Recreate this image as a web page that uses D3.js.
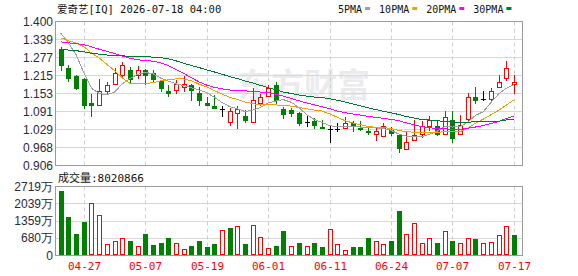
<!DOCTYPE html>
<html>
<head>
<meta charset="utf-8">
<script src="https://cdn.jsdelivr.net/npm/d3@7"></script>
<style>
body{margin:0;background:#fff;}
svg text{font-family:Arial,"Liberation Sans",sans-serif;}
</style>
</head>
<body>
<svg id="kline" width="578" height="276"></svg>
<script>
var dates = [
"04-22","04-23","04-24","04-27","04-28","04-29","04-30","05-01","05-04","05-05",
"05-06","05-07","05-08","05-11","05-12","05-13","05-14","05-15","05-18","05-19",
"05-20","05-21","05-22","05-26","05-27","05-28","05-29","06-01","06-02","06-03",
"06-04","06-05","06-08","06-09","06-10","06-11","06-12","06-15","06-16","06-17",
"06-18","06-22","06-23","06-24","06-25","06-26","06-29","06-30","07-01","07-02",
"07-06","07-07","07-08","07-09","07-10","07-13","07-14","07-15","07-16","07-17"];

var open = [
1.304,1.241,1.213,1.203,1.121,1.113,1.163,1.186,1.215,1.233,
1.218,1.233,1.222,1.196,1.163,1.166,1.177,1.183,1.155,1.122,
1.111,1.097,1.054,1.086,1.077,1.055,1.122,1.145,1.183,1.100,
1.097,1.085,1.054,1.057,1.038,1.031,1.031,1.035,1.052,1.035,
1.026,1.015,1.006,1.029,1.012,0.963,0.995,1.015,1.043,1.040,
1.015,1.063,1.015,1.066,1.141,1.132,1.134,1.175,1.206,1.185];
var high = [
1.312,1.250,1.215,1.205,1.150,1.203,1.193,1.241,1.262,1.243,
1.247,1.238,1.232,1.201,1.182,1.198,1.214,1.186,1.177,1.141,
1.149,1.109,1.103,1.109,1.097,1.172,1.151,1.183,1.194,1.105,
1.103,1.088,1.080,1.069,1.063,1.046,1.052,1.072,1.057,1.057,
1.038,1.035,1.052,1.038,1.012,1.023,1.063,1.057,1.075,1.063,
1.094,1.094,1.080,1.155,1.177,1.160,1.172,1.217,1.263,1.217];
var low = [
1.235,1.196,1.169,1.104,1.076,1.113,1.156,1.186,1.207,1.190,
1.207,1.186,1.193,1.163,1.144,1.155,1.162,1.132,1.115,1.112,
1.103,1.075,1.046,1.035,1.054,1.055,1.115,1.145,1.120,1.069,
1.077,1.046,1.043,1.035,1.035,0.986,1.023,1.035,1.023,1.029,
1.015,0.994,1.006,1.012,0.951,0.963,0.995,1.004,1.029,1.012,
1.015,0.986,1.015,1.057,1.120,1.129,1.132,1.175,1.198,1.155];
var close = [
1.252,1.207,1.173,1.112,1.112,1.161,1.182,1.224,1.250,1.204,
1.233,1.215,1.203,1.173,1.155,1.186,1.185,1.166,1.132,1.112,
1.103,1.097,1.094,1.100,1.061,1.129,1.141,1.172,1.132,1.084,
1.086,1.051,1.054,1.046,1.035,1.031,1.031,1.052,1.046,1.031,
1.022,1.023,1.040,1.018,0.967,0.987,1.012,1.040,1.061,1.015,
1.071,1.001,1.046,1.141,1.132,1.132,1.160,1.192,1.240,1.193];

var ma5 = [
1.360,1.327,1.286,1.225,1.171,1.153,1.148,1.158,1.186,1.204,
1.219,1.225,1.221,1.206,1.196,1.186,1.180,1.173,1.165,1.156,
1.140,1.122,1.108,1.101,1.091,1.096,1.105,1.121,1.127,1.132,
1.123,1.105,1.081,1.064,1.054,1.043,1.039,1.039,1.039,1.038,
1.036,1.035,1.032,1.027,1.014,1.007,1.005,1.005,1.013,1.023,
1.040,1.038,1.039,1.055,1.078,1.090,1.122,1.151,1.171,1.183];
var ma10 = [
1.344,1.334,1.326,1.314,1.292,1.275,1.253,1.232,1.207,1.188,
1.186,1.187,1.190,1.196,1.200,1.203,1.203,1.197,1.185,1.176,
1.163,1.151,1.140,1.133,1.124,1.118,1.114,1.114,1.114,1.111,
1.110,1.105,1.101,1.096,1.093,1.083,1.072,1.060,1.052,1.046,
1.040,1.037,1.036,1.033,1.026,1.022,1.020,1.019,1.020,1.019,
1.023,1.021,1.022,1.034,1.051,1.065,1.080,1.095,1.113,1.131];
var ma20 = [
1.330,1.327,1.324,1.321,1.313,1.305,1.298,1.290,1.282,1.274,
1.269,1.266,1.264,1.258,1.249,1.236,1.222,1.207,1.193,1.182,
1.174,1.169,1.165,1.164,1.162,1.160,1.158,1.156,1.150,1.144,
1.136,1.128,1.121,1.114,1.108,1.101,1.093,1.087,1.083,1.079,
1.075,1.071,1.068,1.064,1.060,1.052,1.046,1.039,1.036,1.032,
1.032,1.029,1.029,1.034,1.038,1.043,1.050,1.057,1.067,1.075];
var ma30 = [
1.305,1.302,1.300,1.296,1.291,1.288,1.285,1.283,1.282,1.281,
1.280,1.279,1.278,1.276,1.272,1.265,1.257,1.249,1.242,1.234,
1.227,1.219,1.211,1.204,1.196,1.189,1.181,1.173,1.166,1.158,
1.153,1.148,1.144,1.141,1.139,1.135,1.130,1.124,1.117,1.111,
1.104,1.098,1.092,1.087,1.081,1.074,1.069,1.064,1.062,1.059,
1.058,1.054,1.053,1.054,1.057,1.057,1.057,1.058,1.062,1.065];

// volume in 万 shares
var volume = [
2522,1510,828,1314,2076,1603,460,578,697,552,
381,828,420,512,670,499,263,355,585,327,
460,1012,1077,1182,460,1208,723,302,355,946,
355,512,394,473,327,1051,460,236,327,327,
670,552,434,591,1734,854,1287,499,709,512,
946,591,499,670,631,473,539,815,1143,802.0866];
// u = red hollow bar, d = green bar
var volumeDir = [
"d","d","d","d","u","u","u","u","u","d",
"u","d","d","d","d","u","u","d","d","d",
"d","u","d","u","d","u","u","u","d","d",
"u","d","u","d","d","u","u","u","d","d",
"d","u","u","d","d","u","u","u","u","d",
"u","d","u","u","d","u","u","u","u","d"];

var priceTicks = [1.400,1.339,1.277,1.215,1.153,1.091,1.029,0.968,0.906];
var volumeTicks = [0,680,1359,2039,2719];
var dateTicks = ["04-27","05-07","05-19","06-01","06-11","06-24","07-07","07-17"];

var maSeries = [
  {name:"5PMA", values:ma5, color:"#a0a0a0"},
  {name:"10PMA", values:ma10, color:"#f0a000"},
  {name:"20PMA", values:ma20, color:"#ff00ff"},
  {name:"30PMA", values:ma30, color:"#007a33"}
];

var RED = "#ff0000", GREEN = "#008000";
var mono = "'DejaVu Sans Mono','Noto Sans CJK SC',monospace";

var svg = d3.select("#kline");
var left = 55.5, right = 522.5;
var mainTop = 21.5, mainBottom = 165.5, volTop = 186.5, volBottom = 255.5;

var x = d3.scaleBand().domain(dates).range([56.9, 517.7]);
var y = d3.scaleLinear().domain([0.906, 1.400]).range([mainBottom, mainTop]);
var yv = d3.scaleLinear().domain([0, 2719]).range([volBottom, volTop]);
var half = x.bandwidth() / 2;

function cx(d) { return Math.round(x(d) + half); }
function py(v) { return Math.round(y(v) - 0.5) + 0.5; }

// watermark
svg.append("text")
  .attr("x", 238).attr("y", 97)
  .style("font-family", "'Noto Sans CJK SC',sans-serif")
  .style("font-size", "33px").style("font-weight", "bold")
  .attr("fill", "#ebebee")
  .text("东方财富");

// horizontal grid, main panel
svg.selectAll(".pgrid").data(priceTicks.slice(1, -1)).enter().append("line")
  .attr("x1", left).attr("x2", right)
  .attr("y1", py).attr("y2", py)
  .attr("stroke", "#d8d8d8");

// horizontal grid, volume panel
svg.selectAll(".vgrid").data(volumeTicks.slice(1, -1)).enter().append("line")
  .attr("x1", left).attr("x2", right)
  .attr("y1", function(d) { return Math.round(yv(d) - 0.5) + 0.5; })
  .attr("y2", function(d) { return Math.round(yv(d) - 0.5) + 0.5; })
  .attr("stroke", "#d8d8d8");

// vertical dashed date lines
[[mainTop, mainBottom], [volTop, volBottom]].forEach(function(p) {
  svg.selectAll(null).data(dateTicks).enter().append("line")
    .attr("x1", function(d) { return cx(d) + 0.5; })
    .attr("x2", function(d) { return cx(d) + 0.5; })
    .attr("y1", p[0]).attr("y2", p[1])
    .attr("stroke", "#cfcfcf")
    .attr("stroke-dasharray", "4,3");
});

// frames
[[mainTop, mainBottom], [volTop, volBottom]].forEach(function(p) {
  svg.append("rect")
    .attr("x", left).attr("y", p[0])
    .attr("width", right - left).attr("height", p[1] - p[0])
    .attr("fill", "none").attr("stroke", "#9a9a9a");
});

// candles
var candles = svg.append("g");
dates.forEach(function(d, i) {
  var c = cx(d), o = open[i], cl = close[i];
  var col = cl > o ? RED : (cl < o ? GREEN : "#000");
  candles.append("line")
    .attr("x1", c + 0.5).attr("x2", c + 0.5)
    .attr("y1", Math.round(y(high[i]))).attr("y2", Math.round(y(low[i])) + 1)
    .attr("stroke", col);
  if (cl > o) {
    var t = Math.round(y(cl)), b = Math.round(y(o));
    candles.append("rect")
      .attr("x", c - 1.5).attr("y", t + 0.5)
      .attr("width", 4).attr("height", Math.max(1, b - t))
      .attr("fill", "#fff").attr("stroke", RED);
  } else if (cl < o) {
    var t2 = Math.round(y(o)), b2 = Math.round(y(cl));
    candles.append("rect")
      .attr("x", c - 2).attr("y", t2)
      .attr("width", 5).attr("height", Math.max(1, b2 - t2 + 1))
      .attr("fill", GREEN);
  } else {
    candles.append("line")
      .attr("x1", c - 2).attr("x2", c + 3)
      .attr("y1", py(cl)).attr("y2", py(cl))
      .attr("stroke", "#000");
  }
});

// moving averages
var line = d3.line()
  .x(function(v, i) { return x(dates[i]) + half; })
  .y(function(v) { return y(v); });
svg.selectAll(".ma").data(maSeries).enter().append("path")
  .attr("class", "ma")
  .attr("d", function(s) { return line(s.values); })
  .attr("fill", "none")
  .attr("stroke", function(s) { return s.color; })
  .attr("stroke-width", 1)
  .attr("shape-rendering", "crispEdges");

// volume bars
var bars = svg.append("g");
dates.forEach(function(d, i) {
  var c = cx(d), t = Math.round(yv(volume[i]));
  if (volumeDir[i] == "u") {
    bars.append("rect")
      .attr("x", c - 1.5).attr("y", t + 0.5)
      .attr("width", 4).attr("height", Math.max(1, 255 - t - 1))
      .attr("fill", "#fff").attr("stroke", RED);
  } else {
    bars.append("rect")
      .attr("x", c - 2).attr("y", t)
      .attr("width", 5).attr("height", 255 - t)
      .attr("fill", GREEN);
  }
});

// price axis labels
svg.selectAll(".plabel").data(priceTicks).enter().append("text")
  .attr("x", 53).attr("y", function(d) { return py(d) + 4; })
  .attr("text-anchor", "end")
  .style("font-size", "12px")
  .attr("fill", "#2a2a3a")
  .text(function(d) { return d.toFixed(3); });

// volume axis labels
svg.selectAll(".vlabel").data(volumeTicks).enter().append("text")
  .attr("x", 53).attr("y", function(d) { return Math.round(yv(d)) + 4; })
  .attr("text-anchor", "end")
  .style("font-size", "12px")
  .attr("fill", "#2a2a3a")
  .text(function(d) { return d == 0 ? "0" : d + "万"; });

// date labels
svg.selectAll(".xlabel").data(dateTicks).enter().append("text")
  .attr("x", function(d) { return cx(d) + 0.5; })
  .attr("y", 270)
  .attr("text-anchor", "middle")
  .style("font-family", mono).style("font-size", "11px")
  .attr("fill", RED)
  .text(function(d) { return d; });

// titles
svg.append("text")
  .attr("x", 57).attr("y", 13)
  .style("font-family", mono).style("font-size", "10.5px")
  .attr("fill", "#111")
  .text("爱奇艺[IQ] 2026-07-18 04:00");

svg.append("text")
  .attr("x", 58).attr("y", 182)
  .style("font-family", mono).style("font-size", "11px")
  .attr("fill", "#111")
  .text("成交量:" + Math.round(volume[volume.length - 1] * 10000));

// legend
var lx = 338;
maSeries.forEach(function(s) {
  var t = svg.append("text")
    .attr("x", lx).attr("y", 13)
    .style("font-family", mono).style("font-size", "10px")
    .attr("fill", "#111")
    .text(s.name);
  var w = t.node().getComputedTextLength();
  svg.append("rect")
    .attr("x", lx + w + 3).attr("y", 7)
    .attr("width", 5).attr("height", 3)
    .attr("fill", s.color);
  lx = lx + w + 3 + 5 + 9;
});
</script>
</body>
</html>
